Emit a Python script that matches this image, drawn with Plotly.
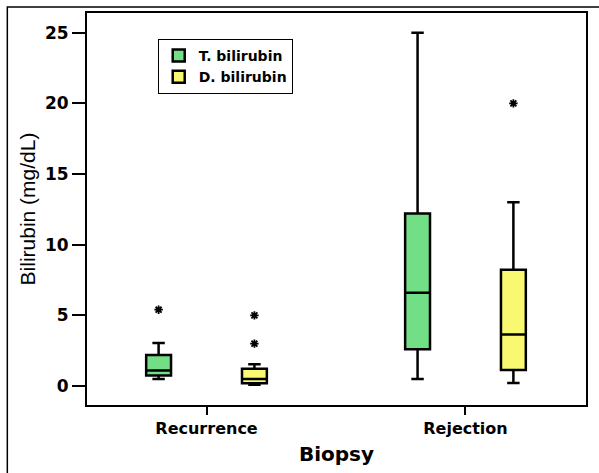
import plotly.graph_objects as go

# ---- data ----
categories = ["Recurrence", "Rejection"]

t_lower = [0.5, 0.5]
t_q1 = [0.75, 2.6]
t_median = [1.1, 6.6]
t_q3 = [2.2, 12.2]
t_upper = [3.05, 25.0]
t_out_cat = [0]
t_out_val = [5.4]

d_lower = [0.1, 0.22]
d_q1 = [0.19, 1.13]
d_median = [0.5, 3.65]
d_q3 = [1.22, 8.22]
d_upper = [1.55, 13.0]
d_out_cat = [0, 0, 1]
d_out_val = [5.0, 3.0, 20.0]

y_ticks = [0, 5, 10, 15, 20, 25]

# ---- styling ----
GREEN = "#72DE85"
YELLOW = "#F9F871"
OFFSET = 0.185
BOXW = 0.096
BOLD = "DejaVu Sans"

cat_idx = list(range(len(categories)))
t_x = [i - OFFSET for i in cat_idx]
d_x = [i + OFFSET for i in cat_idx]

fig = go.Figure()
fig.add_trace(go.Box(
    name="T. bilirubin", x=t_x, q1=t_q1, median=t_median, q3=t_q3,
    lowerfence=t_lower, upperfence=t_upper, width=BOXW, whiskerwidth=0.5,
    fillcolor=GREEN, line=dict(color="black", width=2.5), boxpoints=False,
))
fig.add_trace(go.Box(
    name="D. bilirubin", x=d_x, q1=d_q1, median=d_median, q3=d_q3,
    lowerfence=d_lower, upperfence=d_upper, width=BOXW, whiskerwidth=0.5,
    fillcolor=YELLOW, line=dict(color="black", width=2.5), boxpoints=False,
))
outmarker = dict(symbol="asterisk-open", size=7, color="black",
                 line=dict(color="black", width=1.8))
fig.add_trace(go.Scatter(
    x=[c - OFFSET for c in t_out_cat], y=t_out_val, mode="markers",
    marker=outmarker, showlegend=False, hoverinfo="y",
))
fig.add_trace(go.Scatter(
    x=[c + OFFSET for c in d_out_cat], y=d_out_val, mode="markers",
    marker=outmarker, showlegend=False, hoverinfo="y",
))

W, H = 599, 473
L, R, T, B = 87, 11, 12, 68
pw, ph = W - L - R, H - T - B

fig.update_layout(
    width=W, height=H, autosize=False,
    margin=dict(l=L, r=R, t=T, b=B),
    paper_bgcolor="white", plot_bgcolor="white",
    legend=dict(x=(158 - L) / pw, y=(H - B - 38) / ph, xanchor="left", yanchor="top",
                bordercolor="black", borderwidth=1, bgcolor="white",
                font=dict(family=BOLD, size=14, color="black", weight="bold"),
                tracegroupgap=0, itemwidth=30),
    shapes=[dict(type="rect", xref="paper", yref="paper",
                 x0=(7 - L) / pw, x1=(W + 20 - L) / pw,
                 y0=(H - B - (H + 20)) / ph, y1=(H - B - 6) / ph,
                 line=dict(color="black", width=1.5), layer="below")],
)
fig.update_xaxes(
    range=[-0.4615, 1.4654], tickvals=cat_idx, ticktext=categories,
    ticks="outside", ticklen=8, tickwidth=2, tickcolor="black",
    showline=True, linewidth=2, linecolor="black", mirror=True,
    showgrid=False, zeroline=False,
    tickfont=dict(family=BOLD, size=16, color="black", weight="bold"),
    title=dict(text="Biopsy", standoff=10,
               font=dict(family=BOLD, size=20, color="black", weight="bold")),
)
fig.update_yaxes(
    range=[-1.34, 26.39], tickvals=y_ticks,
    ticks="outside", ticklen=13, tickwidth=1.5, tickcolor="black",
    showline=True, linewidth=2, linecolor="black", mirror=True,
    showgrid=False, zeroline=False,
    tickfont=dict(family=BOLD, size=17, color="black", weight="bold"),
    title=dict(text="Bilirubin (mg/dL)", standoff=4,
               font=dict(family="Liberation Sans", size=21, color="black")),
)

fig.write_html("out.html", config={"displayModeBar": False},
               post_script="document.body.style.margin='0';document.body.style.overflow='hidden';")
